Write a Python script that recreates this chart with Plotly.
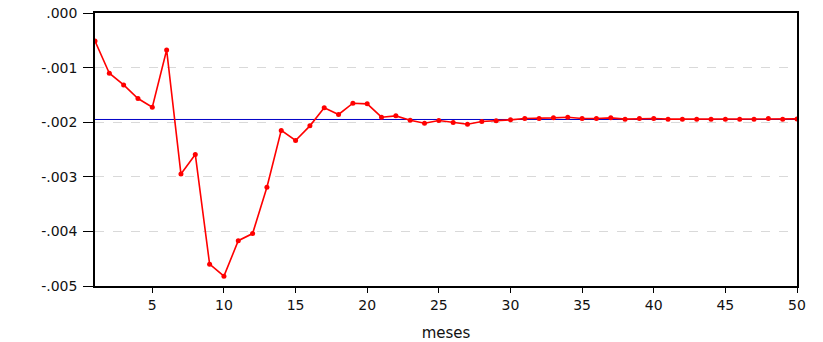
import plotly.graph_objects as go

meses = list(range(1, 51))
respuesta = [
    -0.000512, -0.001103, -0.001317, -0.001566, -0.001725,
    -0.000677, -0.00295, -0.00259, -0.00460, -0.00482,
    -0.00417, -0.00404, -0.00319, -0.00215, -0.002335,
    -0.002067, -0.001737, -0.001859, -0.001652, -0.001664,
    -0.001908, -0.001884, -0.001963, -0.002018, -0.001969,
    -0.002005, -0.002036, -0.001987, -0.001975, -0.001957,
    -0.001932, -0.001932, -0.00192, -0.001908, -0.001932,
    -0.001932, -0.00192, -0.001944, -0.001932, -0.001932,
    -0.001944, -0.001944, -0.001944, -0.001944, -0.001944,
    -0.001944, -0.001944, -0.001932, -0.001944, -0.00194,
]
nivel_medio = -0.00195
y_ticks = [0.0, -0.001, -0.002, -0.003, -0.004, -0.005]
y_labels = [".000", "-.001", "-.002", "-.003", "-.004", "-.005"]
x_ticks = [5, 10, 15, 20, 25, 30, 35, 40, 45, 50]

fig = go.Figure()
fig.add_trace(go.Scatter(
    x=[meses[0], meses[-1]], y=[nivel_medio, nivel_medio], mode="lines",
    line=dict(color="#0000c8", width=1), hoverinfo="skip", showlegend=False))
fig.add_trace(go.Scatter(
    x=meses, y=respuesta, mode="lines+markers",
    line=dict(color="#ff0000", width=1.6),
    marker=dict(color="#ff0000", size=5), showlegend=False))

font = dict(family="DejaVu Sans, Arial, sans-serif", size=14, color="#111111")
fig.update_layout(
    width=823, height=342,
    margin=dict(l=95, r=26, t=13, b=56),
    paper_bgcolor="white", plot_bgcolor="white",
    font=font, showlegend=False,
)
fig.update_xaxes(
    range=[1, 50], tickvals=x_ticks, ticks="outside", ticklen=5,
    tickcolor="black", showline=True, linecolor="black", linewidth=1.5,
    mirror=True, showgrid=False, zeroline=False, automargin=False,
    ticklabeloverflow="allow",
    title=dict(text="meses", font=dict(family="DejaVu Sans, Arial, sans-serif", size=15, color="#111111"), standoff=16),
)
fig.update_yaxes(
    range=[-0.005, 0.0], tickvals=y_ticks, ticktext=y_labels,
    ticks="outside", ticklen=10, tickcolor="black", ticklabelstandoff=3,
    ticklabeloverflow="allow",
    showline=True, linecolor="black", linewidth=1.5, mirror=True,
    showgrid=True, gridcolor="#d9d9d9", griddash="dash", gridwidth=1,
    zeroline=False, automargin=False,
)
fig.write_html("out.html", config={"displayModeBar": False},
               post_script="document.body.style.margin='0';")
